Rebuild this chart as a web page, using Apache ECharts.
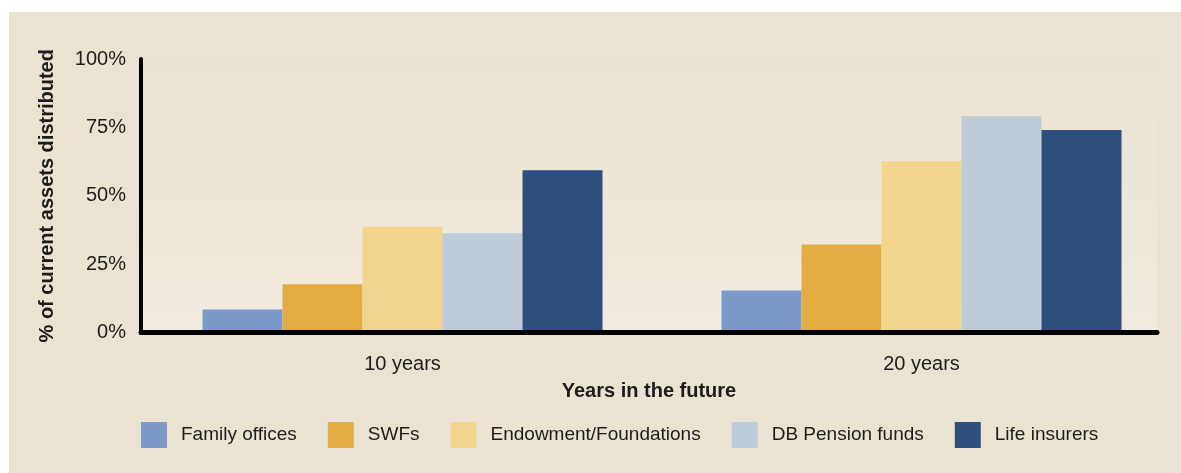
<!DOCTYPE html>
<html>
<head>
<meta charset="utf-8">
<script src="https://cdn.jsdelivr.net/npm/echarts@6/dist/echarts.min.js"></script>
<style>
  html, body { margin: 0; padding: 0; background: #ffffff; }
  #chart { position: absolute; left: 9px; top: 12px; width: 1172px; height: 461px; background: #EBE3D2; }
</style>
</head>
<body>
<div id="chart"></div>
<script>
const categories = ['10 years', '20 years'];
const seriesNames = ['Family offices', 'SWFs', 'Endowment/Foundations', 'DB Pension funds', 'Life insurers'];
const familyOffices = [8.4, 15.4];
const swfs = [17.6, 32.2];
const endowments = [38.8, 62.6];
const dbPension = [36.3, 79.1];
const lifeInsurers = [59.3, 74.0];
const yTicks = [0, 25, 50, 75, 100];
const colors = ['#7B9ACB', '#E3AB43', '#F2D58D', '#BECBD8', '#2C4F80'];
const seriesData = [familyOffices, swfs, endowments, dbPension, lifeInsurers];

const FONT = '"Liberation Sans", Arial, sans-serif';
const TXT = '#1c1c1c';

const chart = echarts.init(document.getElementById('chart'), null, { renderer: 'canvas' });
chart.setOption({
  animation: false,
  textStyle: { fontFamily: FONT },
  grid: [
    { left: 132, right: 24, top: 47, bottom: 140.5, show: true, borderWidth: 0,
      backgroundColor: { type: 'linear', x: 0, y: 0, x2: 0, y2: 1,
        colorStops: [{ offset: 0, color: '#EAE2D1' }, { offset: 1, color: '#F2EBDF' }] } },
    { left: 134, width: 1040, top: 47, bottom: 140.5 }
  ],
  xAxis: [
    { type: 'category', gridIndex: 0, data: categories, z: 5,
      axisLine: { show: true, lineStyle: { color: '#000', width: 5 } },
      axisTick: { show: false }, axisLabel: { show: false }, splitLine: { show: false },
      name: 'Years in the future', nameLocation: 'middle', nameGap: 49,
      nameTextStyle: { fontSize: 20, fontWeight: 'bold', color: TXT, fontFamily: FONT } },
    { type: 'category', gridIndex: 1, data: categories,
      axisLine: { show: false }, axisTick: { show: false }, splitLine: { show: false },
      axisLabel: { fontSize: 20, color: TXT, margin: 22, fontFamily: FONT } }
  ],
  yAxis: [
    { type: 'value', gridIndex: 0, min: 0, max: 100, interval: 25, z: 5,
      axisLine: { show: true, lineStyle: { color: '#000', width: 4 } },
      axisTick: { show: false }, splitLine: { show: false },
      axisLabel: { fontSize: 20, color: TXT, margin: 15, fontFamily: FONT,
        formatter: v => (yTicks.includes(v) ? v + '%' : '') },
      name: '% of current assets distributed', nameLocation: 'middle', nameGap: 84,
      nameTextStyle: { fontSize: 20, fontWeight: 'bold', color: TXT, fontFamily: FONT } },
    { type: 'value', gridIndex: 1, min: 0, max: 100, show: false }
  ],
  legend: {
    left: 127, top: 405, itemWidth: 26, itemHeight: 26, itemGap: 31, icon: 'rect',
    data: seriesNames,
    textStyle: { fontSize: 19, color: TXT, fontFamily: FONT, padding: [0, 0, 0, 9] }
  },
  series: seriesNames.map((n, i) => ({
    name: n, type: 'bar', xAxisIndex: 1, yAxisIndex: 1,
    data: seriesData[i], barWidth: 80, barGap: '0%',
    itemStyle: { color: colors[i] }
  }))
});
</script>
</body>
</html>
